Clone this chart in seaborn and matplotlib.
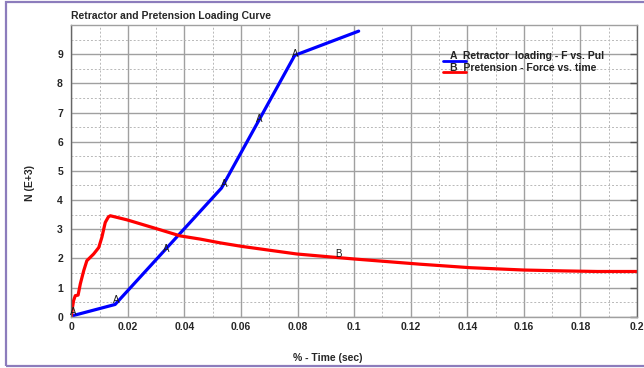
import numpy as np
import pandas as pd
import matplotlib
matplotlib.use('Agg')
import matplotlib.pyplot as plt
from matplotlib.lines import Line2D
from matplotlib.patches import Rectangle
from matplotlib.ticker import MultipleLocator, FixedLocator
import seaborn as sns

# ── data ────────────────────────────────────────────────────
retractor_x = [0.0003, 0.0155, 0.0531, 0.079, 0.1016]
retractor_y = [0.03, 0.42, 4.41, 8.96, 9.79]

pretension_x = [0.0, 0.0004, 0.0008, 0.0014, 0.0024, 0.0032, 0.0044, 0.0055,
                0.0079, 0.0097, 0.0108, 0.012, 0.0131, 0.0138, 0.0155, 0.0197,
                0.0314, 0.0385, 0.0456, 0.0527, 0.0603, 0.0797, 0.0903, 0.0998,
                0.1233, 0.141, 0.160, 0.174, 0.186, 0.200]
pretension_y = [0.0, 0.3, 0.55, 0.72, 0.74, 1.13, 1.58, 1.92,
                2.15, 2.37, 2.72, 3.23, 3.42, 3.46, 3.42, 3.32,
                2.98, 2.77, 2.66, 2.53, 2.41, 2.15, 2.06, 1.98,
                1.80, 1.68, 1.60, 1.57, 1.55, 1.55]

# curve id letters placed along the lines
a_label_x = [0.0007, 0.016, 0.0337, 0.054, 0.0666, 0.079]
a_label_y = [0.17, 0.57, 2.32, 4.56, 6.79, 8.99]
b_label_x = [0.0945]
b_label_y = [2.15]

x_ticks = [0, 0.02, 0.04, 0.06, 0.08, 0.1, 0.12, 0.14, 0.16, 0.18, 0.2]
x_tick_labels = ['0', '0.02', '0.04', '0.06', '0.08', '0.1', '0.12', '0.14', '0.16', '0.18', '0.2']
y_ticks = [0, 1, 2, 3, 4, 5, 6, 7, 8, 9]

legend_labels = ['A  Retractor  loading - F vs. Pul', 'B  Pretension - Force vs. time']

df = pd.concat([
    pd.DataFrame({'t': retractor_x, 'N': retractor_y, 'curve': 'A'}),
    pd.DataFrame({'t': pretension_x, 'N': pretension_y, 'curve': 'B'}),
], ignore_index=True)

sns.set_style("white")
plt.rcParams['font.family'] = ['Liberation Sans', 'DejaVu Sans']

fig = plt.figure(figsize=(6.44, 3.68), dpi=100)
ax = fig.add_axes([71.3 / 644, 1 - 316.7 / 368, 565.7 / 644, 291.7 / 368])

sns.lineplot(data=df, x='t', y='N', hue='curve', palette={'A': '#0000ff', 'B': '#ff0000'},
             sort=False, estimator=None, lw=2.3, legend=False, ax=ax)

# curve letters on top of the lines
for x, y in zip(a_label_x, a_label_y):
    ax.text(x, y, 'A', fontsize=7, ha='center', va='center', color='#1a1a1a', zorder=6)
for x, y in zip(b_label_x, b_label_y):
    ax.text(x, y, 'B', fontsize=7, ha='center', va='center', color='#1a1a1a', zorder=6)

ax.set_xlim(0, 0.2)
ax.set_ylim(0, 10)
ax.xaxis.set_major_locator(FixedLocator(x_ticks))
ax.set_xticklabels(x_tick_labels)
ax.xaxis.set_minor_locator(MultipleLocator(0.01))
ax.yaxis.set_major_locator(FixedLocator(y_ticks))
ax.yaxis.set_minor_locator(MultipleLocator(0.5))

ax.grid(which='major', color='#a0a0a0', lw=1.0, ls='-')
ax.grid(which='minor', color='#b8b8b8', lw=0.7, ls=(0, (2, 2)))
ax.set_axisbelow(True)

ax.tick_params(axis='y', which='major', direction='out', length=5, width=1, color='#555555',
               labelsize=7.5, pad=1, right=True)
ax.tick_params(axis='y', which='minor', length=0)
ax.tick_params(axis='x', which='both', length=0, labelsize=7.5, pad=4)
for lab in ax.get_xticklabels() + ax.get_yticklabels():
    lab.set_fontweight('bold')
# right side ticks point inward
for t in ax.yaxis.get_major_ticks():
    t.tick2line.set_marker(0)
    t.tick2line.set_markersize(5)

for side in ['left', 'right']:
    ax.spines[side].set_color('#666666')
    ax.spines[side].set_linewidth(1.0)
for side in ['top', 'bottom']:
    ax.spines[side].set_color('#a0a0a0')
    ax.spines[side].set_linewidth(1.0)

ax.set_xlabel('% - Time (sec)', fontsize=7.5, fontweight='bold')
ax.set_ylabel('N (E+3)', fontsize=7.5, fontweight='bold')
ax.xaxis.set_label_coords(0.454, -0.123)
ax.yaxis.set_label_coords(-0.064, 0.458)

ax.text(0.0, 1.031, 'Retractor and Pretension Loading Curve', transform=ax.transAxes,
        fontsize=7.5, fontweight='bold', ha='left', va='center')

# legend drawn by hand: letter sits on the line sample
for (ly, ty, col, lab) in [(0.878, 0.894, '#0000ff', legend_labels[0]),
                           (0.840, 0.853, '#ff0000', legend_labels[1])]:
    ax.add_line(Line2D([0.657, 0.698], [ly, ly], transform=ax.transAxes, color=col, lw=2.0))
    ax.text(0.669, ty, lab, transform=ax.transAxes, fontsize=7.5, fontweight='bold',
            ha='left', va='center', color='#222222')

# purple frame around the figure
fig.patches.append(Rectangle((6 / 644, 2 / 368), 1.2, 364 / 368, transform=fig.transFigure,
                             fill=False, edgecolor='#8c7cbc', lw=1.6, clip_on=False))

fig.savefig('out.png', dpi=100)
